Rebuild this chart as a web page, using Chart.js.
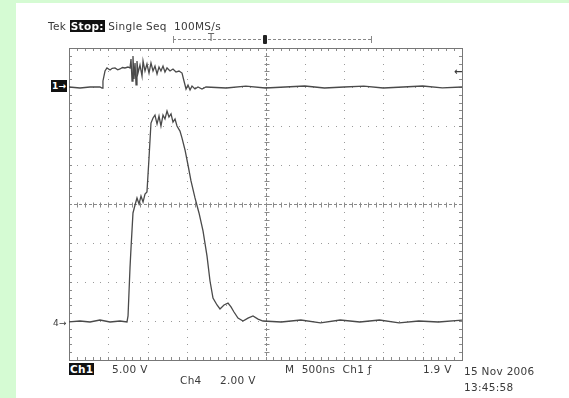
<!DOCTYPE html>
<html>
<head>
<meta charset="utf-8">
<script src="https://cdn.jsdelivr.net/npm/chart.js@4.4.1/dist/chart.umd.min.js"></script>
<style>
    html, body { margin: 0; padding: 0; }
    body { width: 569px; height: 398px; background: #d5fbd3; position: relative; overflow: hidden; font-family: "DejaVu Sans", sans-serif; color: #3a3a3a; }
    #panel { position: absolute; left: 16px; top: 3px; width: 553px; height: 395px; background: #fff; }
    #scope { position: absolute; left: 0; top: 0; }
    .lbl { position: absolute; font-size: 10.5px; line-height: 12px; white-space: nowrap; letter-spacing: 0.3px; }
    .inv { background: #111; color: #fff; padding: 0 1px; font-weight: bold; }
    .bar { position: absolute; left: 173px; top: 39px; width: 198px; height: 0; border-top: 1px dashed #888; }
    .cap { position: absolute; top: 36px; width: 1px; height: 7px; background: #888; }
</style>
</head>
<body>
<div id="panel"></div>
<canvas id="scope" width="569" height="398"></canvas>

<div class="lbl" style="left:48px;top:20px;">Tek <span class="inv">Stop:</span> Single Seq&nbsp; 100MS/s</div>

<div class="bar"></div>
<div class="cap" style="left:173px;"></div>
<div class="cap" style="left:371px;"></div>
<div class="lbl" style="left:208px;top:32px;font-size:10px;color:#666;">T</div>
<div style="position:absolute;left:263px;top:35px;width:4px;height:9px;background:#222;border-radius:1px;"></div>

<div class="lbl inv" style="left:51px;top:80px;font-size:9px;">1&#8594;</div>
<div class="lbl" style="left:53px;top:317px;font-size:9px;">4&#8594;</div>
<div class="lbl" style="left:454px;top:66px;font-size:10px;font-weight:bold;">&#8592;</div>

<div class="lbl inv" style="left:69px;top:363px;">Ch1</div>
<div class="lbl" style="left:112px;top:363px;">5.00 V</div>
<div class="lbl" style="left:180px;top:374px;">Ch4</div>
<div class="lbl" style="left:220px;top:374px;">2.00 V</div>
<div class="lbl" style="left:285px;top:363px;">M&nbsp; 500ns&nbsp; Ch1 &#402;</div>
<div class="lbl" style="left:423px;top:363px;">1.9 V</div>
<div class="lbl" style="left:464px;top:365px;">15 Nov 2006</div>
<div class="lbl" style="left:464px;top:381px;">13:45:58</div>

<script>
// time in ns, 500 ns / div, 10 divisions
var ch4Time = [0, 140, 267, 394, 522, 649, 738, 751, 776, 789, 814, 840, 865, 891, 916, 942, 967, 992,
    1018, 1043, 1069, 1094, 1120, 1145, 1170, 1196, 1221, 1247, 1272, 1298, 1323, 1349, 1374, 1412, 1438,
    1476, 1514, 1552, 1603, 1654, 1705, 1756, 1794, 1832, 1883, 1921, 1972, 2023, 2061, 2099, 2150, 2214,
    2277, 2341, 2405, 2468, 2700, 2950, 3200, 3450, 3700, 3950, 4200, 4450, 4700, 5000];
// Ch4 volts (2.00 V/div)
var ch4Volts = [-0.05, 0, -0.05, 0.05, -0.05, 0, -0.05, 0.26, 2.72, 3.74, 5.54, 5.95, 6.31, 6.0, 6.41, 6.1, 6.51, 6.62,
    8.36, 10.15, 10.41, 10.56, 10.1, 10.51, 10.0, 10.56, 10.36, 10.77, 10.46, 10.62, 10.2, 10.36, 10.0, 9.74, 9.38,
    8.77, 8.0, 7.18, 6.31, 5.54, 4.62, 3.33, 2.05, 1.18, 0.82, 0.62, 0.82, 0.92, 0.72, 0.46, 0.15, 0,
    0.15, 0.26, 0.1, 0, -0.05, 0.05, -0.1, 0.05, -0.05, 0.05, -0.1, 0, -0.05, 0.05];

var ch1Time = [0, 140, 267, 394, 420, 432, 458, 483, 522, 550, 585, 620, 649, 680, 712, 751, 776,
    789, 802, 814, 827, 840, 853, 865, 878, 903, 929, 942, 967, 992, 1018, 1043, 1069, 1094, 1120, 1145,
    1170, 1196, 1221, 1247, 1285, 1323, 1361, 1399, 1438, 1463, 1489, 1514, 1540, 1565, 1603, 1641, 1692,
    1743, 2000, 2250, 2500, 2750, 3000, 3250, 3500, 3750, 4000, 4250, 4500, 4750, 5000];
// Ch1 volts (5.00 V/div)
var ch1Volts = [0, -0.13, 0, 0, -0.13, 0.77, 2.05, 2.44, 2.18, 2.4, 2.44, 2.2, 2.31, 2.5, 2.44, 2.56, 2.44,
    3.59, 0.77, 3.97, 1.03, 3.08, 0.26, 3.33, 1.79, 2.82, 1.41, 3.33, 2.05, 2.95, 1.79, 3.08, 2.05, 2.69, 1.67, 2.56,
    2.05, 2.69, 1.92, 2.44, 2.05, 2.31, 1.92, 2.05, 1.79, 0.77, -0.26, 0.26, -0.38, 0.13, -0.26, 0, -0.26,
    0, -0.13, 0.1, -0.13, 0, 0.13, -0.13, 0, 0.1, -0.13, 0, 0.13, -0.1, 0];

function MakePoints(times, values) {
    var points = [];
    var index = 0;
    while (index < times.length) {
        points.push({ x: times[index], y: values[index] });
        index++;
    }
    return points;
}

// scope graticule: dotted divisions, ticked centre cross and border
var graticule = {
    id: 'graticule',
    beforeDatasetsDraw: function (chart) {
        var ctx = chart.ctx;
        var xs = chart.scales.x;
        var ys = chart.scales.y4;
        var left = Math.round(xs.left), right = Math.round(xs.right);
        var top = Math.round(ys.top), bottom = Math.round(ys.bottom);
        var dx = (right - left) / 50;
        var dy = (bottom - top) / 40;
        var i, k, px, py;

        ctx.save();
        ctx.fillStyle = '#9a9a9a';
        for (i = 1; i < 10; i++) {
            if (i == 5) continue;
            px = Math.round(xs.getPixelForValue(i * 500));
            for (k = 0; k <= 40; k++) {
                ctx.fillRect(px, Math.round(top + k * dy), 1, 1);
            }
        }
        for (i = 1; i < 8; i++) {
            if (i == 4) continue;
            py = Math.round(ys.getPixelForValue(-2 + i * 2));
            for (k = 0; k <= 50; k++) {
                ctx.fillRect(Math.round(left + k * dx), py, 1, 1);
            }
        }

        ctx.strokeStyle = '#8a8a8a';
        ctx.lineWidth = 1;
        var cx = Math.round(xs.getPixelForValue(2500)) + 0.5;
        var cy = Math.round(ys.getPixelForValue(6)) + 0.5;
        ctx.beginPath();
        for (k = 0; k <= 40; k++) {
            py = Math.round(top + k * dy) + 0.5;
            ctx.moveTo(cx - 2, py); ctx.lineTo(cx + 3, py);
            ctx.moveTo(left, py); ctx.lineTo(left + 3, py);
            ctx.moveTo(right - 3, py); ctx.lineTo(right, py);
        }
        for (k = 0; k <= 50; k++) {
            px = Math.round(left + k * dx) + 0.5;
            ctx.moveTo(px, cy - 2); ctx.lineTo(px, cy + 3);
            ctx.moveTo(px, top); ctx.lineTo(px, top + 3);
            ctx.moveTo(px, bottom - 3); ctx.lineTo(px, bottom);
        }
        ctx.stroke();

        ctx.setLineDash([3, 2]);
        ctx.beginPath();
        ctx.moveTo(cx, top); ctx.lineTo(cx, bottom);
        ctx.moveTo(left, cy); ctx.lineTo(right, cy);
        ctx.stroke();

        ctx.setLineDash([]);
        ctx.strokeStyle = '#777';
        ctx.strokeRect(left + 0.5, top + 0.5, right - left, bottom - top);
        ctx.restore();
    }
};

new Chart(document.getElementById('scope'), {
    type: 'line',
    data: {
        datasets: [
            {
                label: 'Ch1',
                data: MakePoints(ch1Time, ch1Volts),
                yAxisID: 'y1',
                borderColor: '#4a4a4a',
                borderWidth: 1.3,
                pointRadius: 0,
                tension: 0,
                fill: false
            },
            {
                label: 'Ch4',
                data: MakePoints(ch4Time, ch4Volts),
                yAxisID: 'y4',
                borderColor: '#4a4a4a',
                borderWidth: 1.3,
                pointRadius: 0,
                tension: 0,
                fill: false
            }
        ]
    },
    options: {
        responsive: false,
        animation: false,
        devicePixelRatio: 1,
        layout: { padding: { left: 69, top: 48, right: 107, bottom: 38 } },
        plugins: { legend: { display: false }, tooltip: { enabled: false } },
        scales: {
            x: { type: 'linear', min: 0, max: 5000, display: false },
            y1: { type: 'linear', min: -35, max: 5, display: false },
            y4: { type: 'linear', min: -2, max: 14, display: false }
        }
    },
    plugins: [graticule]
});
</script>
</body>
</html>
